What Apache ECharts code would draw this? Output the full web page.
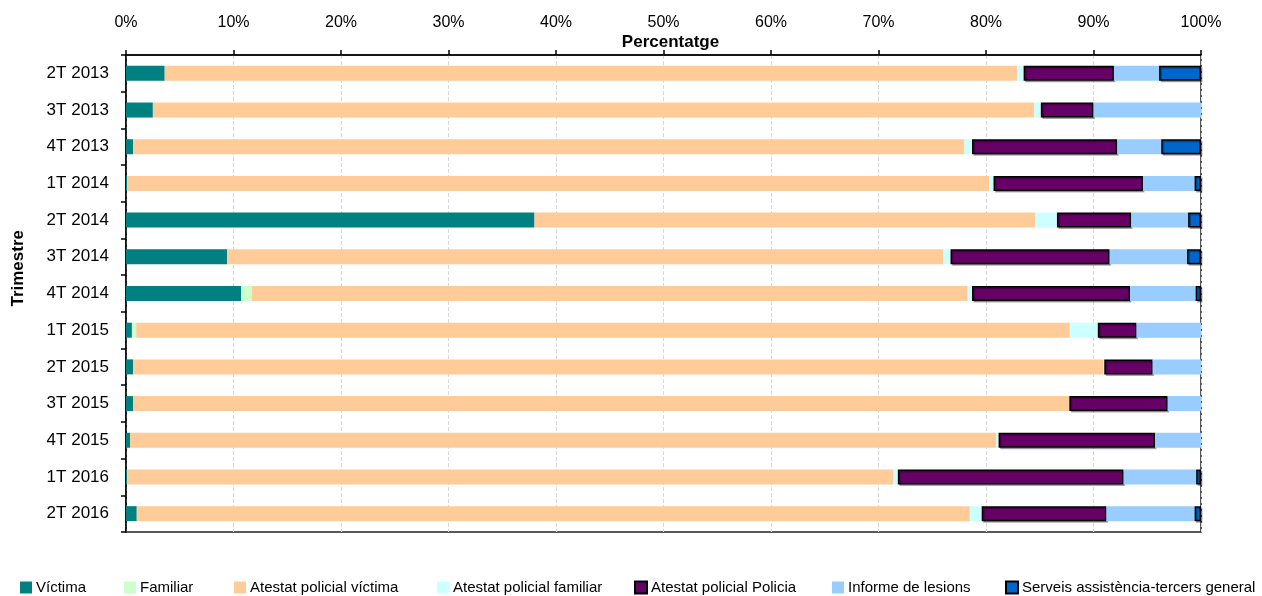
<!DOCTYPE html>
<html>
<head>
<meta charset="utf-8">
<script src="https://cdn.jsdelivr.net/npm/echarts@6/dist/echarts.min.js"></script>
<style>
html,body{margin:0;padding:0;background:#fff;}
#chart{width:1262px;height:596px;}
</style>
</head>
<body>
<div id="chart"></div>
<script>
const categories = ['2T 2013','3T 2013','4T 2013','1T 2014','2T 2014','3T 2014','4T 2014','1T 2015','2T 2015','3T 2015','4T 2015','1T 2016','2T 2016'];
const xTicks = [0,10,20,30,40,50,60,70,80,90,100];

const victima         = [3.6, 2.5, 0.65, 0.1, 38.0, 9.4, 10.7, 0.55, 0.65, 0.65, 0.37, 0.1, 1.0];
const familiar        = [0, 0, 0, 0, 0, 0, 1.0, 0.4, 0, 0, 0, 0, 0];
const atestatVictima  = [79.3, 82.0, 77.35, 80.2, 46.6, 66.6, 66.6, 86.85, 90.25, 87.1, 80.6, 71.3, 77.5];
const atestatFamiliar = [0.6, 0.6, 0.7, 0.4, 2.0, 0.7, 0.4, 2.6, 0.1, 0, 0.2, 0.4, 1.1];
const atestatPolicia  = [8.4, 4.9, 13.5, 13.9, 6.9, 14.8, 14.7, 3.6, 4.5, 9.15, 14.55, 21.0, 11.6];
const informeLesions  = [4.2, 10.0, 4.1, 4.8, 5.3, 7.2, 6.1, 6.0, 4.5, 3.1, 4.28, 6.75, 8.2];
const serveis         = [3.9, 0, 3.7, 0.6, 1.2, 1.3, 0.5, 0, 0, 0, 0, 0.45, 0.6];

const seriesDefs = [
  {name:'Víctima', data:victima, color:'#008080', border:false, legendLeft:20},
  {name:'Familiar', data:familiar, color:'#CCFFCC', border:false, legendLeft:124},
  {name:'Atestat policial víctima', data:atestatVictima, color:'#FFCC99', border:false, legendLeft:234},
  {name:'Atestat policial familiar', data:atestatFamiliar, color:'#CCFFFF', border:false, legendLeft:437},
  {name:'Atestat policial Policia', data:atestatPolicia, color:'#660066', border:true, legendLeft:634},
  {name:'Informe de lesions', data:informeLesions, color:'#99CCFF', border:false, legendLeft:832},
  {name:'Serveis assistència-tercers general', data:serveis, color:'#0066CC', border:true, legendLeft:1005}
];

const FONT = 'Liberation Sans, Arial, sans-serif';

const series = seriesDefs.map(d => ({
  name: d.name,
  type: 'bar',
  stack: 'total',
  barWidth: 15,
  data: d.data.map(v => v === 0 ? '-' : v),
  itemStyle: d.border ? {
    color: d.color, borderColor: '#000', borderWidth: 1.5,
    shadowColor: 'rgba(0,0,0,0.3)', shadowOffsetX: 1.5, shadowOffsetY: 1.5, shadowBlur: 0
  } : { color: d.color },
  emphasis: {disabled: true}
}));

const legends = seriesDefs.map(d => ({
  data: [d.name],
  left: d.legendLeft,
  top: 580,
  itemWidth: 12,
  itemHeight: 12,
  icon: 'rect',
  padding: 0,
  selectedMode: false,
  textStyle: {fontFamily: FONT, fontSize: 15, color: '#000', padding: [0,0,0,-1]}
}));

const chart = echarts.init(document.getElementById('chart'), null, {renderer: 'canvas'});
chart.setOption({
  animation: false,
  backgroundColor: '#fff',
  grid: {left: 126, right: 61, top: 55, bottom: 64, show: true, borderColor: '#222', borderWidth: 1.5, containLabel: false, outerBoundsMode: 'none'},
  legend: legends,
  xAxis: {
    type: 'value',
    position: 'top',
    min: xTicks[0],
    max: xTicks[xTicks.length - 1],
    interval: 10,
    name: 'Percentatge',
    nameLocation: 'middle',
    nameGap: 4,
    nameMoveOverlap: false,
    nameTextStyle: {fontFamily: FONT, fontSize: 17, fontWeight: 'bold', color: '#000', padding: [0,0,0,14], verticalAlign: 'bottom'},
    axisLine: {show: true, lineStyle: {color: '#000', width: 1.5}},
    axisTick: {show: true, length: 5, lineStyle: {color: '#000', width: 1.5}},
    axisLabel: {fontFamily: FONT, fontSize: 16, color: '#000', margin: 24, formatter: '{value}%'},
    splitLine: {show: true, lineStyle: {color: '#d8d8d8', type: 'dashed', width: 1}}
  },
  yAxis: {
    type: 'category',
    data: categories,
    inverse: true,
    axisLine: {show: true, lineStyle: {color: '#000', width: 1.5}},
    axisTick: {show: true, length: 5, lineStyle: {color: '#000', width: 1.5}},
    axisLabel: {fontFamily: FONT, fontSize: 17, color: '#000', margin: 17}
  },
  graphic: [{
    type: 'text',
    left: 10,
    top: 230,
    rotation: Math.PI / 2,
    style: {text: 'Trimestre', font: 'bold 17px ' + FONT, fill: '#000'}
  }],
  series: series
});
</script>
</body>
</html>
